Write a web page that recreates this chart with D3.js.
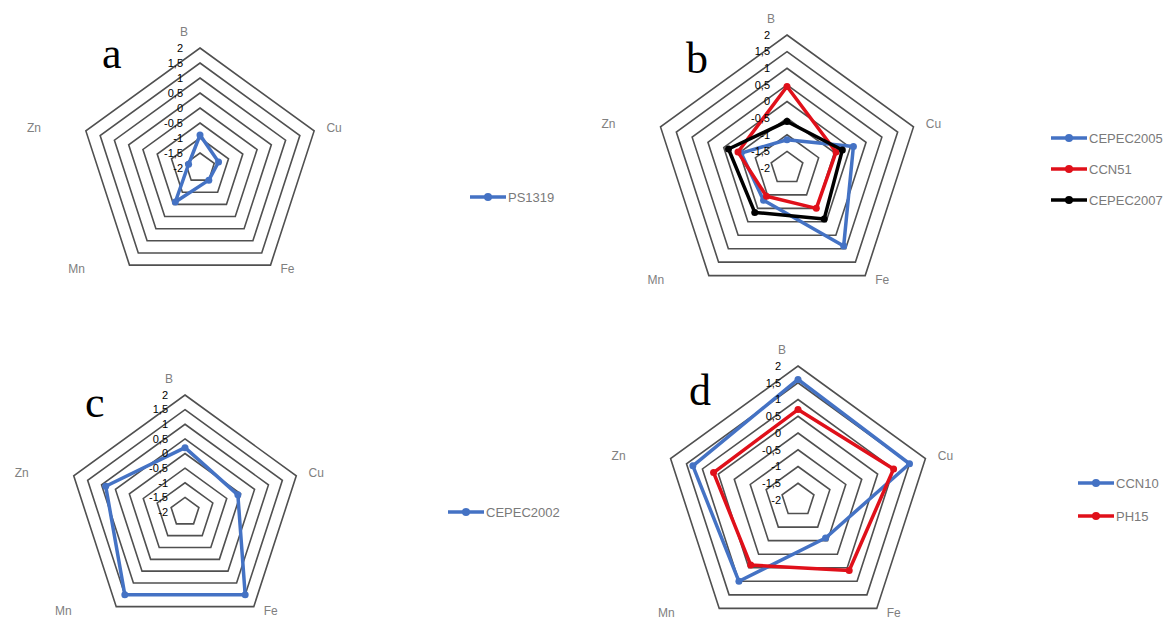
<!DOCTYPE html>
<html>
<head>
<meta charset="utf-8">
<script src="https://cdn.jsdelivr.net/npm/d3@7"></script>
<style>
  body { margin: 0; background: #fff; }
  svg { display: block; }
</style>
</head>
<body>
<div id="chart"></div>
<script>
// axes and scale of every radar
const axes = ['B', 'Cu', 'Fe', 'Mn', 'Zn'];
const ticks = [-2, -1.5, -1, -0.5, 0, 0.5, 1, 1.5, 2];
const tickLabels = ['-2', '-1,5', '-1', '-0,5', '0', '0,5', '1', '1,5', '2'];

// series values, in axis order B, Cu, Fe, Mn, Zn
const ps1319 = [-0.9, -1.35, -1.5, -0.6, -1.6];
const cepec2005 = [-1.15, 0.1, 0.9, -0.8, -0.55];
const ccn51 = [0.45, -0.45, -0.5, -0.95, -0.45];
const cepec2007 = [-0.6, -0.25, -0.1, -0.35, -0.15];
const cepec2002 = [0.2, -0.1, 1.5, 1.5, 0.85];
const ccn10 = [1.6, 1.5, -0.6, 1.0, 1.3];
const ph15 = [0.7, 1.0, 0.6, 0.4, 0.65];

const BLUE = '#4472c4';
const RED = '#e0101a';
const BLACK = '#000000';

const svg = d3.select('#chart')
  .append('svg')
  .attr('width', 1175)
  .attr('height', 623);

// where the axis names sit, relative to the outer vertex
const labelOffsets = [[-16, -16], [20, -3], [17, 4], [-53, 4], [-52, -3]];

function drawRadar(config) {
  const {cx, cy, radius, series, letter, letterX, letterY, legendX, legendY, legendGap = 31} = config;

  const g = svg.append('g').attr('transform', `translate(${cx},${cy})`);
  const rScale = d3.scaleLinear().domain([-2, 2]).range([0, radius]);
  const angle = i => i * 2 * Math.PI / axes.length;

  const pentagon = d3.lineRadial()
    .angle((d, i) => angle(i))
    .radius(d => rScale(d))
    .curve(d3.curveLinearClosed);

  // grid rings
  g.selectAll('path.ring')
    .data(ticks.filter(t => t > -2))
    .join('path')
    .attr('class', 'ring')
    .attr('d', t => pentagon(axes.map(() => t)))
    .attr('fill', 'none')
    .attr('stroke', '#505050')
    .attr('stroke-width', 1.6);

  // series
  series.forEach(s => {
    const sg = g.append('g');
    sg.append('path')
      .attr('d', pentagon(s.values))
      .attr('fill', 'none')
      .attr('stroke', s.color)
      .attr('stroke-width', 3.5)
      .attr('stroke-linejoin', 'round');
    sg.selectAll('circle')
      .data(s.values)
      .join('circle')
      .attr('cx', (d, i) => d3.pointRadial(angle(i), rScale(d))[0])
      .attr('cy', (d, i) => d3.pointRadial(angle(i), rScale(d))[1])
      .attr('r', 3.5)
      .attr('fill', s.color);
  });

  // value labels on the vertical axis
  g.selectAll('text.tick')
    .data(ticks)
    .join('text')
    .attr('class', 'tick')
    .attr('x', -17)
    .attr('y', t => -rScale(t))
    .attr('dy', '0.35em')
    .attr('text-anchor', 'end')
    .attr('font-family', 'Liberation Sans, Arial, sans-serif')
    .attr('font-size', 11)
    .attr('fill', '#000')
    .text((t, i) => tickLabels[i]);

  // axis names
  g.selectAll('text.axis')
    .data(axes)
    .join('text')
    .attr('class', 'axis')
    .attr('x', (d, i) => d3.pointRadial(angle(i), radius)[0] + labelOffsets[i][0])
    .attr('y', (d, i) => d3.pointRadial(angle(i), radius)[1] + labelOffsets[i][1])
    .attr('dy', '0.35em')
    .attr('text-anchor', 'middle')
    .attr('font-family', 'Liberation Sans, Arial, sans-serif')
    .attr('font-size', 12)
    .attr('fill', '#808080')
    .text(d => d);

  // panel letter
  svg.append('text')
    .attr('x', letterX)
    .attr('y', letterY)
    .attr('font-family', 'Liberation Serif, Times New Roman, serif')
    .attr('font-size', 44)
    .attr('fill', '#000')
    .text(letter);

  // legend
  const lg = svg.append('g').attr('transform', `translate(${legendX},${legendY})`);
  series.forEach((s, i) => {
    const item = lg.append('g').attr('transform', `translate(0,${i * legendGap})`);
    item.append('line')
      .attr('x1', 0).attr('x2', 36)
      .attr('stroke', s.color)
      .attr('stroke-width', 3.5);
    item.append('circle').attr('cx', 18).attr('r', 4).attr('fill', s.color);
    item.append('text')
      .attr('x', 38)
      .attr('dy', '0.35em')
      .attr('font-family', 'Liberation Sans, Arial, sans-serif')
      .attr('font-size', 13)
      .attr('fill', '#7a7a7a')
      .text(s.name);
  });
}

drawRadar({
  cx: 200, cy: 168, radius: 120,
  series: [{name: 'PS1319', values: ps1319, color: BLUE}],
  letter: 'a', letterX: 102, letterY: 68,
  legendX: 470, legendY: 197,
});

drawRadar({
  cx: 787, cy: 168, radius: 133,
  series: [
    {name: 'CEPEC2005', values: cepec2005, color: BLUE},
    {name: 'CCN51', values: ccn51, color: RED},
    {name: 'CEPEC2007', values: cepec2007, color: BLACK},
  ],
  letter: 'b', letterX: 686, letterY: 73,
  legendX: 1051, legendY: 138,
});

drawRadar({
  cx: 185, cy: 512, radius: 117,
  series: [{name: 'CEPEC2002', values: cepec2002, color: BLUE}],
  letter: 'c', letterX: 85, letterY: 417,
  legendX: 448, legendY: 512,
});

drawRadar({
  cx: 798, cy: 500, radius: 134,
  series: [
    {name: 'CCN10', values: ccn10, color: BLUE},
    {name: 'PH15', values: ph15, color: RED},
  ],
  letter: 'd', letterX: 689, letterY: 405,
  legendX: 1078, legendY: 483, legendGap: 33,
});
</script>
</body>
</html>
